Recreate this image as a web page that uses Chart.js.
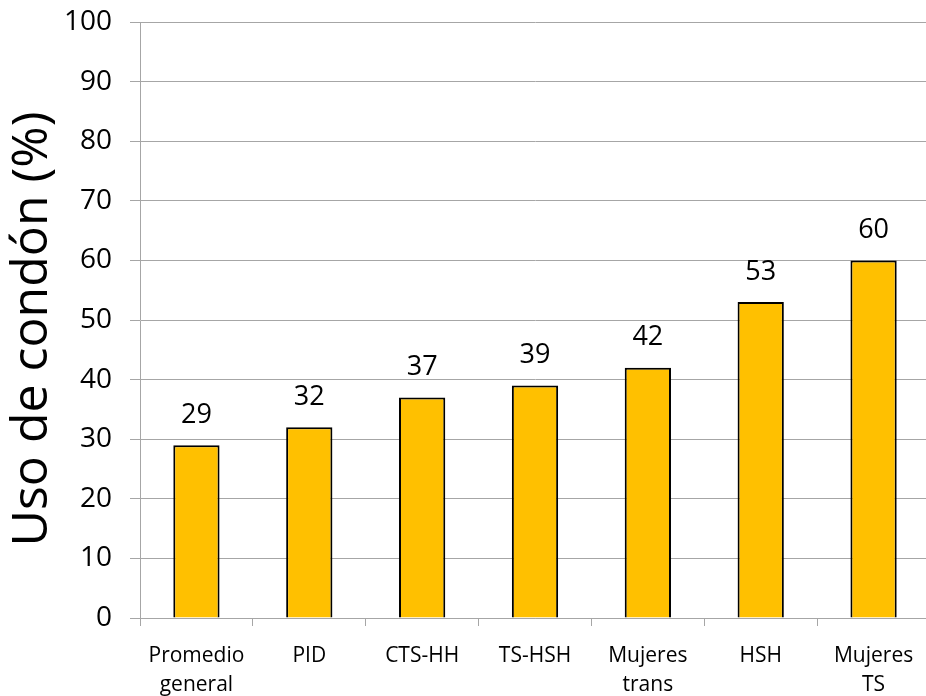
<!DOCTYPE html>
<html>
<head>
<meta charset="utf-8">
<script src="https://cdn.jsdelivr.net/npm/chart.js@4/dist/chart.umd.min.js"></script>
<style>
  html,body{margin:0;padding:0;background:#fff;overflow:hidden;width:926px;height:696px;}
  #wrap{position:relative;width:930px;height:696px;}
</style>
</head>
<body>
<div id="wrap"><canvas id="chart" width="930" height="696"></canvas></div>
<script>
// datos
const categories = [["Promedio","general"],"PID","CTS-HH","TS-HSH",["Mujeres","trans"],"HSH",["Mujeres","TS"]];
const usoCondon = [29, 32, 37, 39, 42, 53, 60];
const yTicks = [0,10,20,30,40,50,60,70,80,90,100];
const yTitle = "Uso de condón (%)";

const FONT = "'Open Sans', sans-serif";
const GRID = "#a6a6a6";

// etiquetas de valor sobre las barras
const valueLabels = {
  id:"valueLabels",
  afterDatasetsDraw(chart){
    const ctx=chart.ctx, meta=chart.getDatasetMeta(0);
    ctx.save(); ctx.fillStyle="#000"; ctx.font="27px "+FONT;
    ctx.textAlign="center"; ctx.textBaseline="middle";
    meta.data.forEach((bar,i)=>{ ctx.fillText(String(usoCondon[i]), bar.x, bar.y-30); });
    ctx.restore();
  }
};
// título del eje Y, girado
const yTitlePlugin = {
  id:"yTitlePlugin",
  afterDraw(chart){
    const ctx=chart.ctx;
    ctx.save(); ctx.translate(33,329); ctx.rotate(-Math.PI/2);
    ctx.fillStyle="#000"; ctx.font="50px "+FONT; ctx.textAlign="center"; ctx.textBaseline="middle";
    ctx.fillText(yTitle,0,0); ctx.restore();
  }
};

new Chart(document.getElementById("chart"),{
  type:"bar",
  data:{ labels:categories, datasets:[{ data:usoCondon, backgroundColor:"#FFC000", borderColor:"#000",
    borderWidth:2, barPercentage:0.41, categoryPercentage:1 }] },
  options:{
    responsive:false, animation:false, devicePixelRatio:1,
    layout:{ padding:{ top:22, right:0, bottom:0, left:0 } },
    plugins:{ legend:{display:false}, tooltip:{enabled:false}, title:{display:false} },
    scales:{
      x:{
        offset:true,
        grid:{ display:true, drawOnChartArea:false, offset:true, color:GRID, tickLength:8, lineWidth:1 },
        border:{ color:GRID, width:1 },
        ticks:{ color:"#000", font:{ family:FONT, size:21, lineHeight:1.35 }, maxRotation:0, autoSkip:false, padding:16 },
        afterFit(s){ s.height=78; s.paddingLeft=0; s.paddingRight=0; }
      },
      y:{
        min:0, max:100,
        grid:{ color:GRID, tickLength:10, lineWidth:1 },
        border:{ color:GRID, width:1 },
        afterBuildTicks(s){ s.ticks = yTicks.map(v=>({value:v})); },
        ticks:{ color:"#000", font:{ family:FONT, size:28 }, padding:18 },
        afterFit(s){ s.width=140; s.paddingTop=0; s.paddingBottom=0; }
      }
    }
  },
  plugins:[valueLabels, yTitlePlugin]
});
</script>
</body>
</html>
